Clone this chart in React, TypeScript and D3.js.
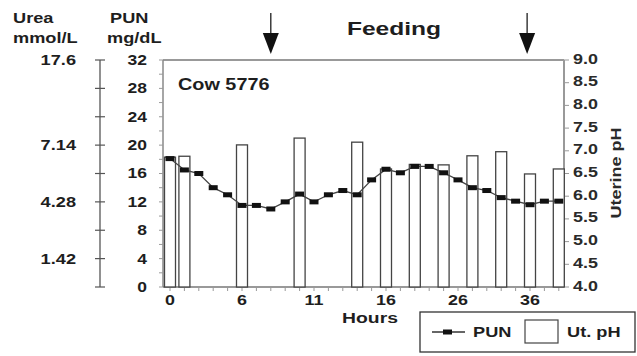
import React from "react";
import * as d3 from "d3";

// PUN (mg/dL) at each sampling point
const punValues = [18.1, 16.5, 16.0, 14.0, 13.0, 11.5, 11.5, 11.0, 12.0, 13.1, 12.0, 13.0, 13.6, 13.0,
  15.1, 16.6, 16.1, 17.0, 17.0, 16.1, 15.1, 14.0, 13.6, 12.6, 12.1, 11.6, 12.1, 12.1];

// uterine pH bars: sample index + value
const phIndex = [0, 1, 5, 9, 13, 15, 17, 19, 21, 23, 25, 27];
const phValues = [6.86, 6.88, 7.13, 7.28, 7.19, 6.6, 6.7, 6.69, 6.89, 6.98, 6.49, 6.6];

const hourTickIndex = [0, 5, 10, 15, 20, 25];
const hourTickLabels = ["0", "6", "11", "16", "26", "36"];

const punTicks = [0, 4, 8, 12, 16, 20, 24, 28, 32];
const ureaTickAt = [32, 20, 12, 4];
const ureaLabels = ["17.6", "7.14", "4.28", "1.42"];
const phTicks = [4.0, 4.5, 5.0, 5.5, 6.0, 6.5, 7.0, 7.5, 8.0, 8.5, 9.0];

const feedingIndex = [7.0, 24.8];

const FONT = "'Liberation Sans', Arial, sans-serif";
const INK = "#1e1e1e";

// the scanned lettering is wide, so stretch text horizontally
const T = ({ x, y, size = 14, sx = 1.3, anchor = "start", dy = "0", fill = INK, children }: any) => (
  <text transform={`translate(${x},${y}) scale(${sx},1)`} fontSize={size} textAnchor={anchor}
    dy={dy} fill={fill}>{children}</text>
);

export default function App() {
  const left = 163, right = 564, top = 60, bottom = 287;
  const x = d3.scaleLinear().domain([0, 27]).range([170, 558.8]);
  const yPun = d3.scaleLinear().domain([0, 32]).range([bottom, top]);
  const yPh = d3.scaleLinear().domain([4, 9]).range([bottom, top]);
  const ureaX = 100;

  const line = d3.line<number>().x((d, i) => x(i)).y(d => yPun(d));
  const barW = 11;

  return (
    <svg width={637} height={356} style={{ position: "absolute", left: 0, top: 0 }}
      fontFamily={FONT} fontWeight="bold">
      <rect width={637} height={356} fill="#fff" />

      {/* headers */}
      <T x={13} y={23}>Urea</T>
      <T x={13} y={43}>mmol/L</T>
      <T x={110} y={23}>PUN</T>
      <T x={107} y={43}>mg/dL</T>
      <T x={394} y={35} size={18.5} sx={1.33} anchor="middle">Feeding</T>

      {/* feeding arrows */}
      {feedingIndex.map((f, i) => {
        const ax = x(f);
        return (
          <g key={i}>
            <line x1={ax} x2={ax} y1={13} y2={40} stroke={INK} strokeWidth={1.3} />
            <path d={`M${ax - 8},${33} L${ax + 8},${33} L${ax},${54} Z`} fill="#111" />
          </g>
        );
      })}

      {/* urea axis */}
      <line x1={ureaX} x2={ureaX} y1={top} y2={bottom} stroke="#555" strokeWidth={1.3} />
      {punTicks.map(t => (
        <line key={t} x1={ureaX - 5} x2={ureaX + 5} y1={yPun(t)} y2={yPun(t)} stroke="#555" strokeWidth={1.2} />
      ))}
      {ureaTickAt.map((t, i) => (
        <T key={t} x={76} y={yPun(t)} dy="0.35em" anchor="end">{ureaLabels[i]}</T>
      ))}

      {/* frame */}
      <line x1={left} x2={right} y1={top} y2={top} stroke="#777" strokeWidth={1.5} />
      <line x1={left} x2={left} y1={top} y2={bottom} stroke="#888" strokeWidth={1.5} />
      <line x1={left} x2={right} y1={bottom} y2={bottom} stroke="#777" strokeWidth={1.5} />
      <line x1={right} x2={right} y1={top} y2={bottom} stroke="#999" strokeWidth={2} />

      {/* PUN axis */}
      {d3.range(0, 33, 2).map(t => (
        <line key={t} x1={left - 4} x2={left} y1={yPun(t)} y2={yPun(t)} stroke="#999" strokeWidth={1} />
      ))}
      {punTicks.map(t => (
        <T key={t} x={147} y={yPun(t)} dy="0.35em" anchor="end" sx={1.25}>{t}</T>
      ))}

      {/* pH axis */}
      {phTicks.map(t => (
        <g key={t}>
          <line x1={right} x2={right + 5} y1={yPh(t)} y2={yPh(t)} stroke="#999" strokeWidth={1} />
          <T x={573} y={yPh(t)} dy="0.25em" sx={1.28} fill="#2a2a2a">{t.toFixed(1)}</T>
        </g>
      ))}
      <text transform={`translate(621,173) rotate(-90) scale(1.2,1)`} fontSize={15} textAnchor="middle" fill="#2a2a2a">Uterine pH</text>

      {/* x ticks */}
      {punValues.map((_, i) => (
        <line key={i} x1={x(i)} x2={x(i)} y1={bottom} y2={bottom + 4} stroke="#999" strokeWidth={1} />
      ))}
      {hourTickIndex.map((idx, i) => (
        <T key={idx} x={x(idx)} y={305} anchor="middle" sx={1.28}>{hourTickLabels[i]}</T>
      ))}
      <T x={370} y={323} anchor="middle" sx={1.38}>Hours</T>

      <T x={178} y={90} size={16} sx={1.24}>Cow 5776</T>

      {/* pH bars */}
      {phIndex.map((idx, i) => (
        <rect key={idx} x={x(idx) - barW / 2} y={yPh(phValues[i])} width={barW}
          height={bottom - yPh(phValues[i])} fill="#fff" stroke="#444" strokeWidth={1.3} />
      ))}

      {/* PUN line */}
      <path d={line(punValues) || ""} fill="none" stroke="#444" strokeWidth={1.3} />
      {punValues.map((v, i) => (
        <rect key={i} x={x(i) - 4.5} y={yPun(v) - 2.5} width={9} height={5} fill="#111" />
      ))}

      {/* legend */}
      <rect x={420} y={312} width={215} height={40} fill="#fff" stroke="#333" strokeWidth={1.3} />
      <line x1={432} x2={465} y1={332} y2={332} stroke="#333" strokeWidth={1.3} />
      <rect x={443} y={329.5} width={9} height={5} fill="#111" />
      <T x={473} y={337} sx={1.3}>PUN</T>
      <rect x={525} y={320} width={33} height={23} fill="#fff" stroke="#444" strokeWidth={1.2} />
      <T x={567} y={337} sx={1.3}>Ut. pH</T>
    </svg>
  );
}
